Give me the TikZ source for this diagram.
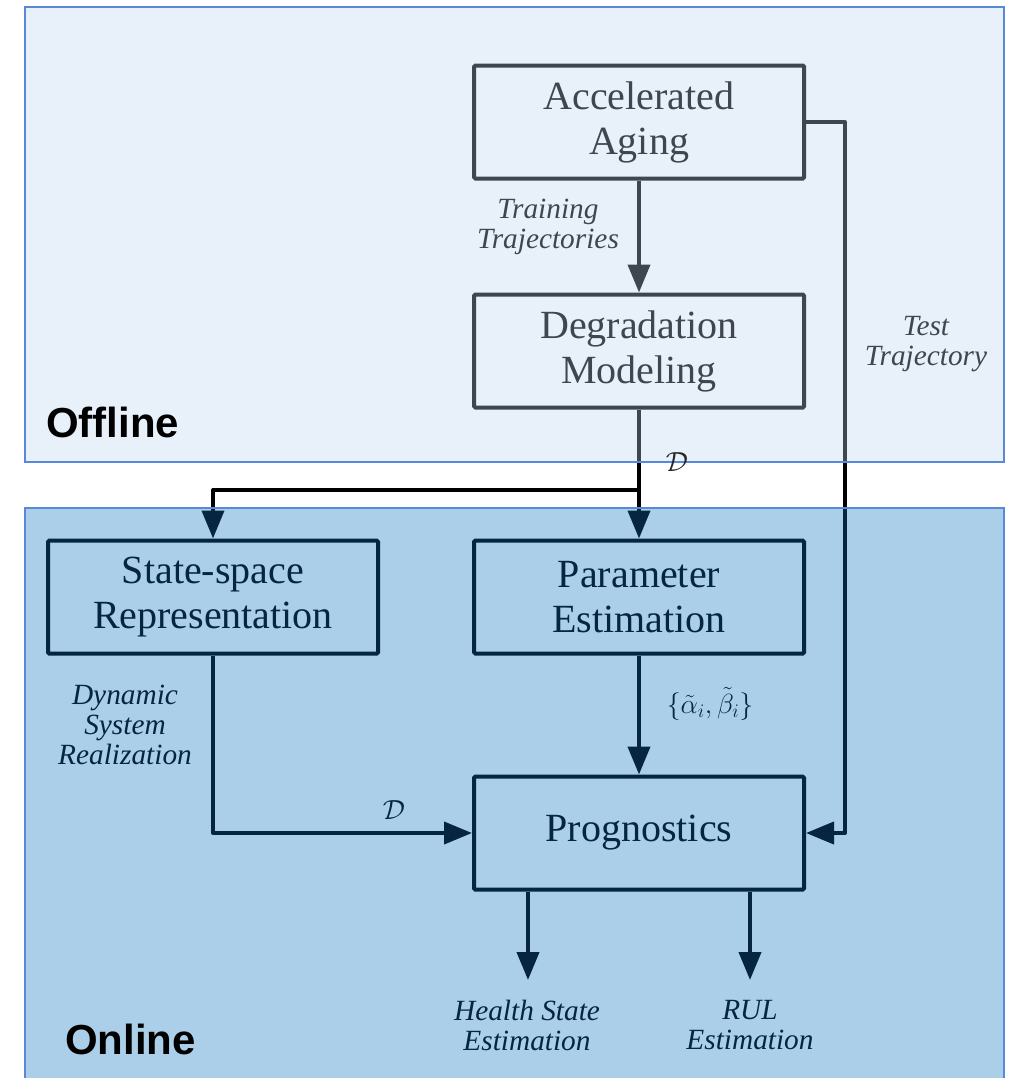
\documentclass[tikz,border=0pt]{standalone}
\usepackage{fontspec}
\setmainfont{Liberation Serif}
\newfontfamily\panelfont{Liberation Sans}
\usetikzlibrary{arrows.meta}

\definecolor{offfill}{HTML}{E8F0F9}
\definecolor{onfill}{HTML}{ABCFE8}
\definecolor{panelrule}{HTML}{5A88D8}
\definecolor{offink}{HTML}{3F464E}
\definecolor{onink}{HTML}{062540}

\tikzset{
  x=0.75pt, y=-0.75pt,
  box/.style={draw, line width=3pt, rounded corners=1pt,
    minimum width=247.5pt, minimum height=84.75pt, inner sep=0pt,
    align=center, font=\fontsize{30}{33.75}\selectfont},
  offbox/.style={box, draw=offink, text=offink},
  onbox/.style={box, draw=onink, text=onink},
  lbl/.style={align=center, inner sep=0pt,
    font=\fontsize{22}{22.5}\selectfont\itshape},
  mathlbl/.style={inner sep=0pt, font=\fontsize{22}{22}\selectfont},
  panellbl/.style={anchor=base west, inner sep=0pt,
    font=\panelfont\bfseries\fontsize{31.5}{31.5}\selectfont},
  wire/.style={line width=3pt, line join=round,
    -{Triangle[length=21pt,width=16.5pt]}},
}

% all connectors, drawn in the colour given as argument
\newcommand\drawwires[1]{%
  \draw[wire,#1] (acc) -- (deg);
  \draw[wire,#1] (acc.east) -- (tt) |- (prog.east);
  \draw[wire,#1] (deg) -- (par);
  \draw[wire,#1] (split) -| (ssr);
  \draw[wire,#1] (par) -- (prog);
  \draw[wire,#1] (ssr) |- (prog);
  \draw[wire,#1] (prog.south -| hs) -- (hs);
  \draw[wire,#1] (prog.south -| rul) -- (rul);
}

\begin{document}
\begin{tikzpicture}
\useasboundingbox (0,0) rectangle (1010,1078);

% panels
\fill[offfill] (25,7) rectangle (1004,462);
\fill[onfill] (25,508) rectangle (1004,1100);

% blocks
\node[offbox] (acc)  at (639,122)   {Accelerated\\Aging};
\node[offbox] (deg)  at (639,351)   {Degradation\\Modeling};
\node[onbox]  (ssr)  at (213,597)   {State-space\\Representation};
\node[onbox]  (par)  at (639,597)   {Parameter\\Estimation};
\node[onbox]  (prog) at (639,833)   {Prognostics};

% routing points
\coordinate (tt)    at (845,122);
\coordinate (split) at (639,490);
\coordinate (hs)    at (528,980);
\coordinate (rul)   at (750,980);

% connectors: gray on the offline panel, black in the gap, navy online
\begin{scope}
  \clip (0,0) rectangle (1010,462);
  \drawwires{offink}
\end{scope}
\begin{scope}
  \clip (0,462) rectangle (1010,508);
  \drawwires{black}
\end{scope}
\begin{scope}
  \clip (0,508) rectangle (1010,1078);
  \drawwires{onink}
\end{scope}

% panel frames
\draw[panelrule, line width=1.1pt] (25,7) rectangle (1004,462);
\draw[panelrule, line width=1.1pt] (25,508) rectangle (1004,1100);

% connector labels
\node[lbl, text=offink] (trainlbl) at (548,227) {Training\\Trajectories};
\node[lbl, text=offink] (testlbl)  at (926,344) {Test\\Trajectory};
\node[mathlbl, text=black!85] (dtop) at (677,462) {$\mathcal{D}$};
\node[mathlbl, text=onink] (params) at (710,704) {$\{\tilde{\alpha}_i,\tilde{\beta}_i\}$};
\node[lbl, text=onink] (dsrlbl) at (125,725) {Dynamic\\System\\Realization};
\node[mathlbl, text=onink] (dleft) at (394,810) {$\mathcal{D}$};
\node[lbl, text=onink] (hslbl)  at (527,1025) {Health State\\Estimation};
\node[lbl, text=onink] (rullbl) at (750,1025) {RUL\\Estimation};

% panel titles
\node[panellbl] (offlbl) at (46,437)  {Offline};
\node[panellbl] (onlbl)  at (65,1054) {Online};
\end{tikzpicture}
\end{document}
